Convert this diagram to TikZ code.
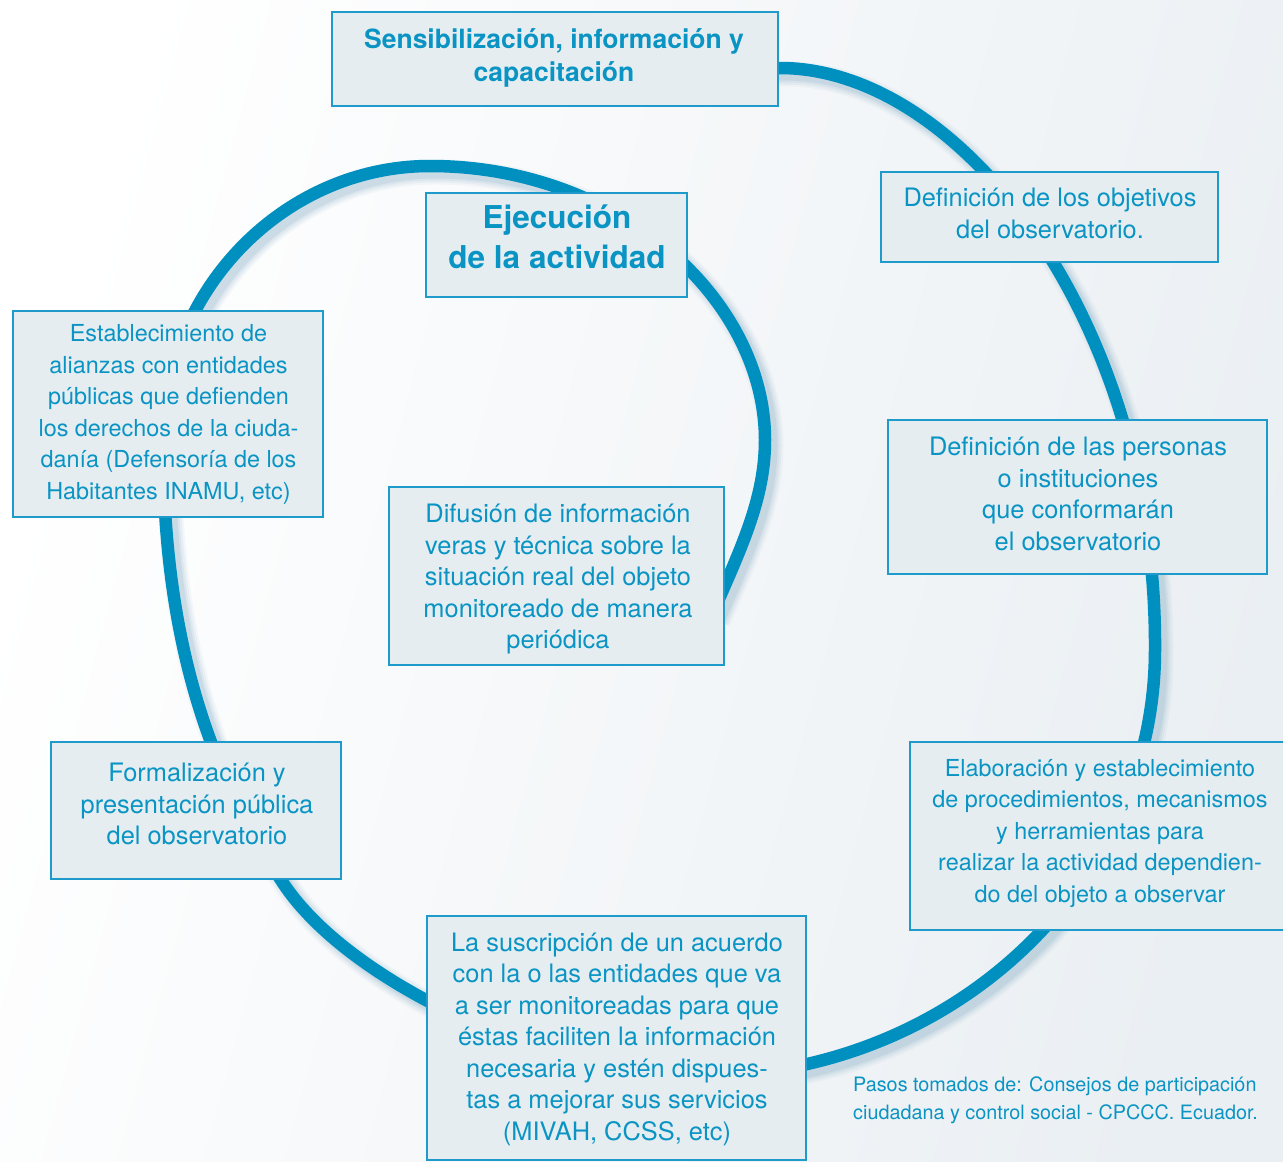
\documentclass[tikz,border=0pt]{standalone}
\usepackage{fontspec}
\setmainfont{TeX Gyre Heros}
\definecolor{ringblue}{HTML}{0090C0}
\definecolor{boxfill}{HTML}{E5EDF1}
\definecolor{boxline}{HTML}{1E9BCB}
\definecolor{txtblue}{HTML}{0A94C4}
\definecolor{shadowc}{HTML}{5F93B3}
\definecolor{bgD}{HTML}{EAEFF3}
\newcommand{\spiralpath}{(720,68) -- (780,68)
 .. controls (960,68) and (1157,320) .. (1155,650)
 .. controls (1155,885) and (950,1076) .. (700,1076)
 .. controls (550,1076) and (349,983) .. (283,883)
 .. controls (195,750) and (163,610) .. (163,440)
 .. controls (163,290) and (284,166) .. (430,166)
 .. controls (620,166) and (765,300) .. (765,440)
 .. controls (765,500) and (740,550) .. (712,615)}
\begin{document}
\begin{tikzpicture}[x=1pt,y=-1pt,
  boxonly/.style={draw=boxline, line width=2pt, fill=boxfill, inner sep=0pt},
  txtA/.style={text=txtblue, align=center, inner sep=0pt, font=\fontsize{25.4}{31.5}\selectfont},
  txtB/.style={text=txtblue, align=center, inner sep=0pt, font=\fontsize{23.4}{31.5}\selectfont},
  txttitle/.style={text=txtblue, align=center, inner sep=0pt, font=\fontsize{26.5}{33}\selectfont\bfseries},
  txtbig/.style={text=txtblue, align=center, inner sep=0pt, font=\fontsize{31.5}{40}\selectfont\bfseries},
  ring/.style={draw=ringblue, line width=12.5pt},
  ringshadow/.style={draw=shadowc, shift={(6,6)}},
  note/.style={text=txtblue, align=left, inner sep=0pt, font=\fontsize{19.8}{28}\selectfont}]
\useasboundingbox (0,0) rectangle (1283,1162);
\shade[top color=white, bottom color=bgD, shading angle=75] (0,0) rectangle (1283,1162);
% soft shadow of the spiral (lower right)
\draw[ringshadow, line width=25pt, opacity=0.05] \spiralpath;
\draw[ringshadow, line width=21pt, opacity=0.07] \spiralpath;
\draw[ringshadow, line width=17pt, opacity=0.09] \spiralpath;
\draw[ringshadow, line width=13pt, opacity=0.12] \spiralpath;
% spiral
\draw[ring] \spiralpath;
% boxes
\node[boxonly, minimum width=446pt, minimum height=94pt] (sensbox) at (555,59) {};
\node[txttitle] (sens) at (554,57.5) {Sensibilización, información y\\capacitación};
\node[boxonly, minimum width=337pt, minimum height=90pt] (objbox) at (1049.5,217) {};
\node[txtA] (obj) at (1050,213.5) {Definición de los objetivos\\del observatorio.};
\node[boxonly, minimum width=379pt, minimum height=154pt] (persbox) at (1077.5,497) {};
\node[txtA] (pers) at (1078,494) {Definición de las personas\\o instituciones\\que conformarán\\el observatorio};
\node[boxonly, minimum width=380pt, minimum height=188pt] (elabbox) at (1100,836) {};
\node[txtB] (elab) at (1100,833.5) {Elaboración y establecimiento\\de procedimientos, mecanismos\\y herramientas para\\realizar la actividad dependien-\\do del objeto a observar};
\node[boxonly, minimum width=379pt, minimum height=244pt] (suscbox) at (616.5,1038) {};
\node[txtA] (susc) at (617,1039) {La suscripción de un acuerdo\\con la o las entidades que va\\a ser monitoreadas para que\\éstas faciliten la información\\necesaria y estén dispues-\\tas a mejorar sus servicios\\(MIVAH, CCSS, etc)};
\node[boxonly, minimum width=290pt, minimum height=137pt] (formbox) at (196,810.5) {};
\node[txtA] (form) at (197,804) {Formalización y\\presentación pública\\del observatorio};
\node[boxonly, minimum width=310pt, minimum height=206pt] (aliabox) at (168,414) {};
\node[txtB] (alia) at (168.5,414.5) {Establecimiento de\\alianzas con entidades\\públicas que defienden\\los derechos de la ciuda-\\danía (Defensoría de los\\Habitantes INAMU, etc)};
\node[boxonly, minimum width=261pt, minimum height=104pt] (ejecbox) at (556.5,245) {};
\node[txtbig] (ejec) at (557,237) {Ejecución\\de la actividad};
\node[boxonly, minimum width=335pt, minimum height=178pt] (difubox) at (556.5,576) {};
\node[txtA] (difu) at (558,579) {Difusión de información\\veras y técnica sobre la\\situación real del objeto\\monitoreado de manera\\periódica};
\node[note, anchor=west] (fuente) at (853,1100)
  {Pasos tomados de: Consejos de participación\\ciudadana y control social - CPCCC. Ecuador.};
\end{tikzpicture}
\end{document}
